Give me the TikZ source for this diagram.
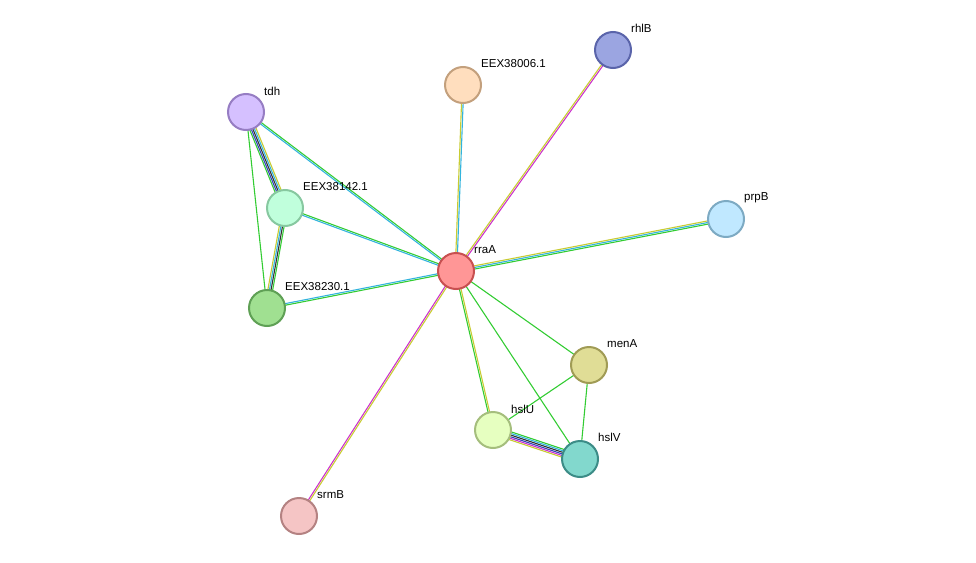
\documentclass[tikz,border=0pt]{standalone}
\usepackage{fontspec}
\setmainfont{Liberation Sans}
\usetikzlibrary{calc}
\definecolor{eg}{HTML}{33CC33}
\definecolor{ey}{HTML}{C8CC33}
\definecolor{ec}{HTML}{33B4DD}
\definecolor{em}{HTML}{CC33CC}
\definecolor{eb}{HTML}{3344BB}
\definecolor{ek}{HTML}{333333}
\newcommand\medge[3]{\foreach \c/\o in {#3}{\draw[line width=1.1pt,draw=\c] ($(#1)!\o pt!90:(#2)$) -- ($(#2)!\o pt!-90:(#1)$);}}
\tikzset{prot/.style={circle,minimum size=36pt,inner sep=0pt,line width=2pt},
 lab/.style={anchor=west,font=\fontsize{11.5}{13}\selectfont,inner sep=0pt}}
\begin{document}
\begin{tikzpicture}[x=1pt,y=-1pt]
\useasboundingbox (0,0) rectangle (976,562);
\coordinate (rraA) at (456,271);
\coordinate (rhlB) at (613,50);
\coordinate (e06) at (463,85);
\coordinate (tdh) at (246,112);
\coordinate (e42) at (285,208);
\coordinate (e30) at (267,308);
\coordinate (prpB) at (726,219);
\coordinate (menA) at (589,365);
\coordinate (hslU) at (493,430);
\coordinate (hslV) at (580,459);
\coordinate (srmB) at (299,516);
\medge{rraA}{rhlB}{em/-0.8,ey/0.8}
\medge{rraA}{e06}{ec/-0.8,ey/0.8}
\medge{rraA}{tdh}{eg/-0.8,ec/0.8}
\medge{rraA}{e42}{eg/-0.8,ec/0.8}
\medge{rraA}{e30}{eg/0.8,ec/-0.8}
\medge{rraA}{prpB}{eg/-1.6,ec/0,ey/1.6}
\medge{rraA}{menA}{eg/0}
\medge{rraA}{hslU}{eg/-0.8,ey/0.8}
\medge{rraA}{hslV}{eg/0}
\medge{rraA}{srmB}{em/-0.8,ey/0.8}
\medge{tdh}{e42}{eg/-3.2,eb/-1.6,ek/0,ec/1.6,ey/3.2}
\medge{tdh}{e30}{eg/0}
\medge{e42}{e30}{ey/-2.4,ec/-0.8,ek/0.8,eg/2.4}
\medge{menA}{hslU}{eg/0}
\medge{menA}{hslV}{eg/0}
\medge{hslU}{hslV}{ey/-4,em/-2.4,eb/-0.8,ek/0.8,ec/2.4,eg/4}
\node[prot,fill={rgb,255:red,255;green,150;blue,150},draw={rgb,255:red,200;green,80;blue,80}] (nrraA) at (rraA) {};
\node[prot,fill={rgb,255:red,155;green,165;blue,225},draw={rgb,255:red,90;green,100;blue,170}] (nrhlB) at (rhlB) {};
\node[prot,fill={rgb,255:red,255;green,222;blue,190},draw={rgb,255:red,195;green,160;blue,125}] (ne06) at (e06) {};
\node[prot,fill={rgb,255:red,213;green,192;blue,255},draw={rgb,255:red,150;green,125;blue,195}] (ntdh) at (tdh) {};
\node[prot,fill={rgb,255:red,192;green,255;blue,220},draw={rgb,255:red,135;green,200;blue,160}] (ne42) at (e42) {};
\node[prot,fill={rgb,255:red,160;green,224;blue,145},draw={rgb,255:red,95;green,160;blue,85}] (ne30) at (e30) {};
\node[prot,fill={rgb,255:red,192;green,232;blue,255},draw={rgb,255:red,125;green,170;blue,195}] (nprpB) at (prpB) {};
\node[prot,fill={rgb,255:red,224;green,221;blue,150},draw={rgb,255:red,160;green,155;blue,85}] (nmenA) at (menA) {};
\node[prot,fill={rgb,255:red,230;green,255;blue,192},draw={rgb,255:red,165;green,190;blue,125}] (nhslU) at (hslU) {};
\node[prot,fill={rgb,255:red,130;green,216;blue,205},draw={rgb,255:red,60;green,140;blue,135}] (nhslV) at (hslV) {};
\node[prot,fill={rgb,255:red,245;green,197;blue,197},draw={rgb,255:red,180;green,130;blue,130}] (nsrmB) at (srmB) {};
\node[lab] at (474,250) {rraA};
\node[lab] at (631,28) {rhlB};
\node[lab] at (481,64) {EEX38006.1};
\node[lab] at (264,91) {tdh};
\node[lab] at (303,187) {EEX38142.1};
\node[lab] at (285,287) {EEX38230.1};
\node[lab] at (744,198) {prpB};
\node[lab] at (607,344) {menA};
\node[lab] at (511,409) {hslU};
\node[lab] at (598,437) {hslV};
\node[lab] at (317,495) {srmB};
\end{tikzpicture}
\end{document}
